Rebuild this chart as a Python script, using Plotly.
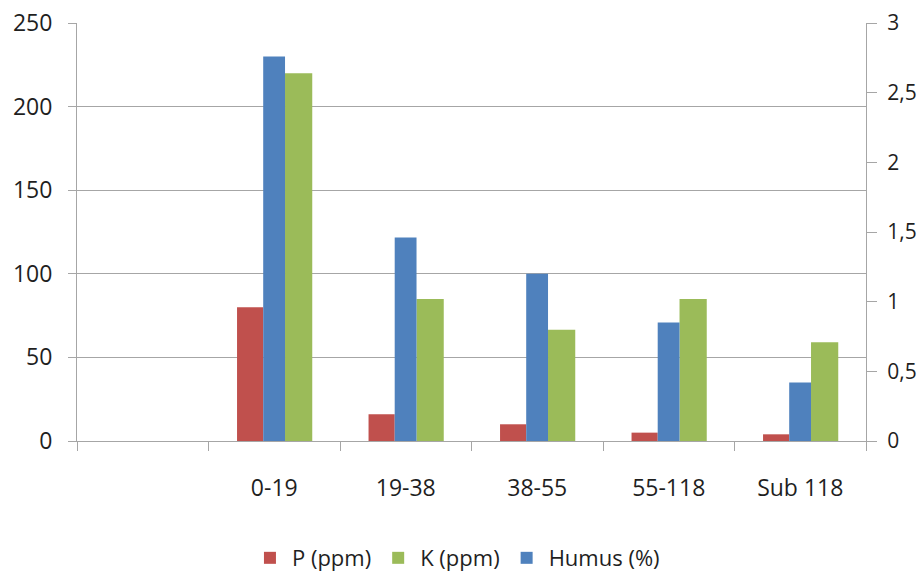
import plotly.graph_objects as go

categories = [" ", "0-19", "19-38", "38-55", "55-118", "Sub 118"]
data_categories = ["0-19", "19-38", "38-55", "55-118", "Sub 118"]
p_ppm = [80, 16, 10, 5, 4]
k_ppm = [220, 85, 66.5, 85, 59]
humus_pct = [2.76, 1.46, 1.2, 0.85, 0.42]

left_ticks = [0, 50, 100, 150, 200, 250]
right_ticks = [0, 0.5, 1, 1.5, 2, 2.5, 3]

RED = "#C0504D"
GREEN = "#9BBB59"
BLUE = "#4F81BD"
GRID = "#a6a6a6"
TXT = "#1f1f1f"
FONT = "Open Sans"

fig = go.Figure()
fig.add_trace(go.Bar(name="P (ppm)", x=data_categories, y=p_ppm,
                     marker=dict(color=RED, line=dict(width=0)),
                     offset=-0.283, width=0.199, yaxis="y"))
fig.add_trace(go.Bar(name="K (ppm)", x=data_categories, y=k_ppm,
                     marker=dict(color=GREEN, line=dict(width=0)),
                     offset=0.082, width=0.207, yaxis="y"))
fig.add_trace(go.Bar(name="Humus (%)", x=data_categories, y=humus_pct,
                     marker=dict(color=BLUE, line=dict(width=0)),
                     offset=-0.084, width=0.166, yaxis="y2"))

fig.update_layout(
    width=924, height=571,
    margin=dict(l=77, r=58, t=23, b=130, autoexpand=False),
    paper_bgcolor="white", plot_bgcolor="white",
    barmode="overlay",
    separators=",.",
    font=dict(family=FONT, size=23, color=TXT),
    showlegend=True,
    legend=dict(orientation="h", xref="container", yref="container",
                x=0.494, xanchor="center", y=0.0595, yanchor="top",
                font=dict(family=FONT, size=22, color=TXT),
                itemwidth=34, tracegroupgap=0),
    xaxis=dict(type="category", categoryorder="array", categoryarray=categories,
               range=[-0.5, 5.5], tickson="boundaries", ticks="outside",
               ticklen=9, tickcolor=GRID, showline=True, linecolor=GRID,
               linewidth=1, showgrid=False, zeroline=False, automargin=False,
               ticklabelstandoff=26, ticklabeloverflow="allow",
               tickfont=dict(size=23)),
    yaxis=dict(range=[0, 250], tickvals=left_ticks, ticks="outside", ticklen=8,
               tickcolor=GRID, showline=True, linecolor=GRID, linewidth=1,
               showgrid=True, gridcolor=GRID, gridwidth=1, zeroline=False,
               automargin=False, ticklabelstandoff=11, ticklabeloverflow="allow",
               tickfont=dict(size=23)),
    yaxis2=dict(range=[0, 3], tickvals=right_ticks, overlaying="y", side="right",
                ticks="outside", ticklen=10, tickcolor=GRID, showline=True,
                linecolor=GRID, linewidth=1, showgrid=False, zeroline=False,
                automargin=False, ticklabelstandoff=6, ticklabeloverflow="allow",
                tickfont=dict(size=21)),
)

fig.write_html("out.html", config={"displayModeBar": False},
               post_script="document.body.style.margin='0';")
